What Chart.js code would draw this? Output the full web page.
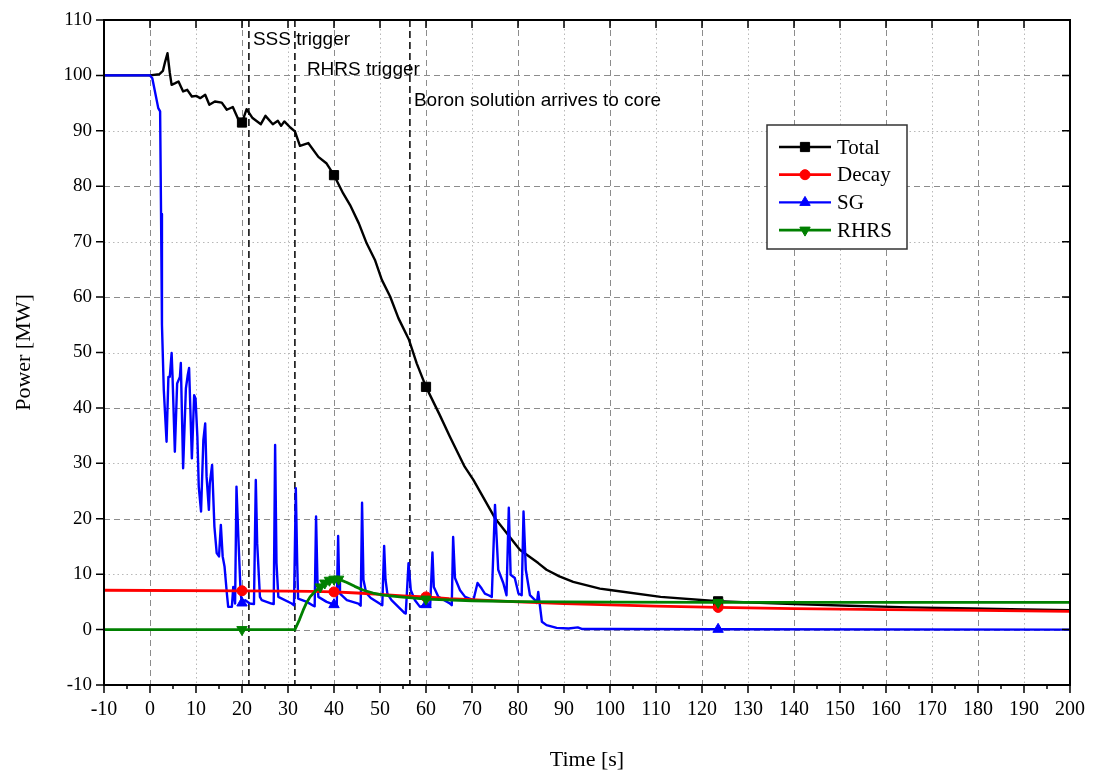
<!DOCTYPE html>
<html>
<head>
<meta charset="utf-8">
<script src="https://cdn.jsdelivr.net/npm/chart.js@4/dist/chart.umd.min.js"></script>
<style>
  html, body { margin: 0; padding: 0; background: #fff; }
  #wrap { width: 1094px; height: 774px; }
</style>
</head>
<body>
<div id="wrap"><canvas id="myChart" width="1094" height="774"></canvas></div>
<script>
// Total power
const totalTime  = [-10, 0, 2, 2.8, 3.3, 3.8, 4.3, 4.7, 5.5, 6.2, 6.8, 7.2, 8.1, 9.1, 10.1, 10.9, 12.0, 12.9, 14.1, 15.6, 16.7, 18.0, 19.4, 20, 21.0, 22.3, 24.1, 25.1, 26.7, 27.8, 28.5, 29.2, 30.5, 31.5, 32.6, 34.4, 36.6, 38.4, 40, 42.0, 43.5, 45.4, 47.1, 48.9, 50.4, 52.2, 54.0, 56.3, 58, 60, 63, 65.2, 68.4, 70.3, 75, 80.4, 84.4, 86.2, 89, 92, 97.8, 100.4, 111, 123.5, 140, 152, 165, 178.6, 190, 200];
const totalPower = [100, 100, 100.2, 100.8, 102.5, 104.0, 100.5, 98.3, 98.6, 98.9, 97.8, 97.1, 97.4, 96.2, 96.3, 95.9, 96.5, 94.7, 95.3, 95.1, 93.8, 94.3, 91.7, 91.5, 93.9, 92.3, 91.2, 92.7, 91.2, 91.8, 90.9, 91.7, 90.6, 89.9, 87.3, 87.8, 85.3, 84.1, 82.0, 78.7, 76.6, 73.3, 69.7, 66.7, 63.1, 60.1, 56.2, 52.3, 48.0, 43.8, 38.7, 34.8, 29.4, 27.0, 20.1, 14.4, 12.0, 10.8, 9.6, 8.6, 7.4, 7.1, 5.9, 5.1, 4.6, 4.3, 4.0, 3.8, 3.65, 3.5];

// Decay heat
const decayTime  = [-10, 20, 30, 35, 40, 45, 50, 55, 60, 65, 70, 80, 90, 100, 110, 123.5, 140, 160, 180, 200];
const decayPower = [7.1, 7.0, 6.95, 6.9, 6.8, 6.6, 6.35, 6.1, 5.9, 5.6, 5.4, 5.0, 4.7, 4.45, 4.25, 4.0, 3.8, 3.6, 3.45, 3.3];

// Steam generator
const sgTime  = [-10, 0, 0.5, 1.8, 2.2, 2.4, 2.6, 3.0, 3.6, 4.0, 4.3, 4.7, 4.9, 5.4, 5.9, 6.5, 6.7, 7.2, 7.8, 8.2, 8.5, 9.1, 9.6, 9.9, 10.3, 10.6, 11.1, 11.6, 12.0, 12.3, 12.8, 13.0, 13.5, 14.0, 14.5, 15.0, 15.4, 15.8, 16.2, 16.7, 17.0, 17.8, 18.1, 18.5, 18.8, 19.2, 19.7, 20, 20.7, 21.7, 22.6, 23.0, 23.3, 23.9, 24.3, 26.4, 26.9, 27.2, 27.5, 27.9, 30.8, 31.3, 31.7, 32.0, 32.2, 34.1, 35.5, 35.8, 36.1, 36.4, 36.6, 38.4, 40, 40.6, 40.9, 41.1, 41.3, 42.8, 45.3, 45.8, 46.1, 46.4, 47, 48, 50.5, 50.9, 51.2, 51.6, 52.5, 55.3, 55.6, 56.2, 56.7, 57.6, 58.7, 60, 60.9, 61.4, 61.7, 62.7, 65.2, 65.6, 65.9, 66.3, 67.4, 68.5, 70.3, 71.2, 72.1, 72.8, 73.6, 74.3, 75.0, 75.7, 76.8, 77.5, 78.0, 78.4, 79.3, 80.1, 80.8, 81.2, 81.7, 82.6, 83.7, 84.1, 84.4, 84.8, 85.2, 86.2, 88.4, 91, 93, 94, 100, 123.5, 200];
const sgPower = [100, 100, 99.5, 94.1, 93.5, 75, 55, 43.2, 33.9, 45.6, 45.6, 49.9, 45.6, 32.1, 44.4, 45.6, 48.1, 29.1, 43.5, 45.9, 47.2, 30.9, 42.3, 41.7, 34.8, 25.8, 21.3, 34.2, 37.2, 27.6, 21.6, 26.4, 29.7, 18.6, 13.8, 13.2, 18.9, 13.2, 11.4, 6.6, 4.1, 4.1, 7.7, 4.7, 25.8, 16.8, 6.6, 4.8, 5.3, 4.7, 4.6, 27.0, 15.6, 5.9, 5.3, 4.7, 4.6, 33.3, 12, 5.9, 4.7, 4.4, 25.5, 12, 5.6, 5.0, 4.3, 4.2, 20.4, 9, 5.9, 5.0, 4.5, 4.4, 16.9, 9, 6.5, 5.3, 4.7, 4.3, 22.9, 9, 6.6, 5.7, 4.4, 15.1, 9, 6.5, 5.3, 3.0, 2.9, 12.0, 7.1, 5.3, 4.1, 4.5, 4.1, 13.9, 7.7, 5.9, 4.7, 4.4, 16.7, 9.3, 7.1, 5.9, 5.3, 8.4, 7.4, 6.5, 6.2, 5.9, 22.5, 10.8, 8.4, 6.2, 22.0, 9.9, 9.3, 6.5, 6.2, 21.3, 10.8, 6.2, 5.3, 4.8, 6.8, 4.1, 1.4, 0.8, 0.3, 0.2, 0.4, 0.1, 0.1, 0.05, 0];

// Residual heat removal system
const rhrsTime  = [-10, 20, 31.5, 32.5, 33.3, 34.0, 34.8, 36, 37, 38, 39, 40, 41, 42.8, 44.5, 46.4, 48.5, 50.7, 54.3, 60, 70, 80, 90, 100, 123.5, 150, 200];
const rhrsPower = [0, 0, 0, 1.8, 3.5, 4.8, 5.9, 7.0, 7.7, 8.4, 8.9, 9.1, 9.1, 8.5, 7.8, 7.1, 6.6, 6.2, 5.9, 5.5, 5.2, 5.05, 5.0, 4.95, 4.9, 4.9, 4.9];

// marker positions (s)
const totalMarks = [20, 40, 60, 123.5];
const decayMarks = [20, 40, 60, 123.5];
const sgMarks    = [20, 40, 60, 123.5];
const rhrsMarks  = [20, 37, 38, 39, 40, 41, 60, 123.5];

// event lines
const eventTimes  = [21.5, 31.5, 56.5];
const eventLabels = ['SSS trigger', 'RHRS trigger', 'Boron solution arrives to core'];
const eventLevels = [106.5, 101, 95.5];

const xTicks = { min: -10, max: 200, step: 10 };
const yTicks = { min: -10, max: 110, step: 10 };

function toPoints(xs, ys) {
    return xs.map((x, i) => ({ x: x, y: ys[i] }));
}
function markerRadius(marks, r) {
    return ctx => (ctx.raw && marks.includes(ctx.raw.x)) ? r : 0;
}

const series = [
    { label: 'Total', color: '#000000', style: 'rect', rot: 0, r: 6.5, width: 2.4, order: 4, time: totalTime, power: totalPower, marks: totalMarks },
    { label: 'Decay', color: '#ff0000', style: 'circle', rot: 0, r: 5, width: 2.8, order: 2, time: decayTime, power: decayPower, marks: decayMarks },
    { label: 'SG', color: '#0000ff', style: 'triangle', rot: 0, r: 6, width: 2.4, order: 3, time: sgTime, power: sgPower, marks: sgMarks },
    { label: 'RHRS', color: '#008000', style: 'triangle', rot: 180, r: 6, width: 2.8, order: 1, time: rhrsTime, power: rhrsPower, marks: rhrsMarks }
];

// grid, frame, ticks, event lines, legend
const decorPlugin = {
    id: 'decor',
    beforeDatasetsDraw(chart) {
        const c = chart.ctx, a = chart.chartArea;
        const xs = chart.scales.x, ys = chart.scales.y;
        c.save();
        c.lineWidth = 1;
        for (let v = xTicks.min + xTicks.step; v < xTicks.max; v += xTicks.step) {
            const px = Math.round(xs.getPixelForValue(v)) + 0.5;
            const major = v % 20 === 0;
            c.strokeStyle = major ? '#8c8c8c' : '#b8b8b8';
            c.setLineDash(major ? [6, 4] : [1.5, 3]);
            c.beginPath(); c.moveTo(px, a.top); c.lineTo(px, a.bottom); c.stroke();
        }
        for (let v = yTicks.min + yTicks.step; v < yTicks.max; v += yTicks.step) {
            const py = Math.round(ys.getPixelForValue(v)) + 0.5;
            const major = v % 20 === 0;
            c.strokeStyle = major ? '#8c8c8c' : '#b8b8b8';
            c.setLineDash(major ? [6, 4] : [1.5, 3]);
            c.beginPath(); c.moveTo(a.left, py); c.lineTo(a.right, py); c.stroke();
        }
        // event lines
        c.strokeStyle = '#000';
        c.lineWidth = 1.5;
        c.setLineDash([7, 4]);
        const offs = [4, 12, 4];
        eventTimes.forEach((t, i) => {
            const px = xs.getPixelForValue(t);
            c.beginPath(); c.moveTo(px, a.top); c.lineTo(px, a.bottom); c.stroke();
        });
        c.setLineDash([]);
        c.fillStyle = '#000';
        c.font = '19px "Liberation Sans", Arial, sans-serif';
        c.textBaseline = 'middle';
        c.textAlign = 'left';
        eventTimes.forEach((t, i) => {
            c.fillText(eventLabels[i], xs.getPixelForValue(t) + offs[i], ys.getPixelForValue(eventLevels[i]));
        });
        c.restore();
    },
    afterDraw(chart) {
        const c = chart.ctx, a = chart.chartArea;
        const xs = chart.scales.x, ys = chart.scales.y;
        c.save();
        c.strokeStyle = '#000';
        c.lineWidth = 2;
        c.strokeRect(a.left, a.top, a.right - a.left, a.bottom - a.top);
        c.lineWidth = 1.5;
        c.beginPath();
        for (let v = xTicks.min; v <= xTicks.max; v += 5) {
            const px = xs.getPixelForValue(v);
            const major = v % 10 === 0;
            c.moveTo(px, a.bottom); c.lineTo(px, a.bottom + (major ? 8 : 4));
            if (major) { c.moveTo(px, a.top); c.lineTo(px, a.top + 8); }
        }
        for (let v = yTicks.min; v <= yTicks.max; v += yTicks.step) {
            const py = ys.getPixelForValue(v);
            c.moveTo(a.left, py); c.lineTo(a.left - 8, py);
            c.moveTo(a.right, py); c.lineTo(a.right - 8, py);
        }
        c.stroke();

        // legend
        const lx = 767, ly = 125, lw = 140, lh = 124;
        c.fillStyle = '#fff';
        c.fillRect(lx, ly, lw, lh);
        c.strokeStyle = '#333';
        c.lineWidth = 1.5;
        c.strokeRect(lx, ly, lw, lh);
        c.font = '21px "Liberation Serif", "Times New Roman", serif';
        c.textBaseline = 'middle';
        c.textAlign = 'left';
        series.forEach((s, i) => {
            const y = ly + 22 + i * 27.7;
            c.strokeStyle = s.color;
            c.fillStyle = s.color;
            c.lineWidth = s.width;
            c.beginPath(); c.moveTo(lx + 12, y); c.lineTo(lx + 64, y); c.stroke();
            c.lineWidth = 1;
            Chart.helpers.drawPoint(c, { pointStyle: s.style, rotation: s.rot, radius: s.r, borderWidth: 1 }, lx + 38, y);
            c.fillStyle = '#000';
            c.fillText(s.label, lx + 70, y + 1);
        });
        c.restore();
    }
};

const ctx = document.getElementById('myChart').getContext('2d');

const myChart = new Chart(ctx, {
    type: 'line',
    data: {
        datasets: series.map(s => ({
            label: s.label,
            data: toPoints(s.time, s.power),
            borderColor: s.color,
            backgroundColor: s.color,
            borderWidth: s.width,
            borderJoinStyle: 'round',
            pointStyle: s.style,
            pointRotation: s.rot,
            pointRadius: markerRadius(s.marks, s.r),
            pointBorderWidth: 1,
            pointHoverRadius: 0,
            tension: 0,
            order: s.order
        }))
    },
    options: {
        responsive: false,
        animation: false,
        events: [],
        layout: { padding: { top: 20, right: 24, left: 0, bottom: 0 } },
        scales: {
            x: {
                type: 'linear',
                min: xTicks.min,
                max: xTicks.max,
                grid: { display: false },
                border: { display: false },
                ticks: {
                    stepSize: xTicks.step,
                    autoSkip: false,
                    maxRotation: 0,
                    padding: 5,
                    color: '#000',
                    font: { family: '"Liberation Serif", "Times New Roman", serif', size: 20 }
                },
                title: {
                    display: true,
                    text: 'Time [s]',
                    color: '#000',
                    padding: { top: 0, bottom: 1 },
                    font: { family: '"Liberation Serif", "Times New Roman", serif', size: 22 }
                },
                afterFit: s => { s.height = 89; }
            },
            y: {
                type: 'linear',
                min: yTicks.min,
                max: yTicks.max,
                grid: { display: false },
                border: { display: false },
                ticks: {
                    stepSize: yTicks.step,
                    padding: 4,
                    color: '#000',
                    font: { family: '"Liberation Serif", "Times New Roman", serif', size: 19 }
                },
                title: {
                    display: true,
                    text: 'Power [MW]',
                    color: '#000',
                    padding: { top: 11, bottom: 0 },
                    font: { family: '"Liberation Serif", "Times New Roman", serif', size: 22 }
                },
                afterFit: s => { s.width = 104; }
            }
        },
        plugins: {
            legend: { display: false },
            tooltip: { enabled: false }
        }
    },
    plugins: [decorPlugin]
});
</script>
</body>
</html>
